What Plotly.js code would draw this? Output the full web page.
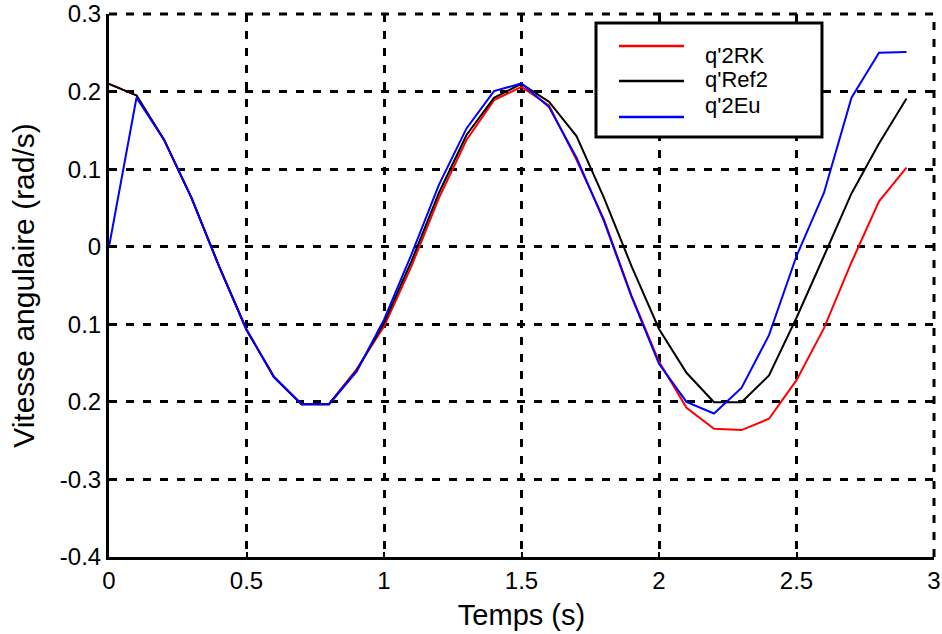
<!DOCTYPE html>
<html>
<head>
<meta charset="utf-8">
<script src="https://cdn.plot.ly/plotly-3.0.1.min.js"></script>
<style>
  html, body { margin: 0; padding: 0; background: #ffffff; }
  #chart { width: 942px; height: 634px; }
</style>
</head>
<body>
<div id="chart"></div>
<script>
// Time samples (s)
const temps = [0.0, 0.1, 0.2, 0.3, 0.4, 0.5, 0.6, 0.7, 0.8, 0.9,
               1.0, 1.1, 1.2, 1.3, 1.4, 1.5, 1.6, 1.7, 1.8, 1.9,
               2.0, 2.1, 2.2, 2.3, 2.4, 2.5, 2.6, 2.7, 2.8, 2.9];

// q'2RK (red)
const q2RK = [0.210, 0.195, 0.138, 0.063, -0.025, -0.107, -0.168, -0.203, -0.203, -0.158,
              -0.103, -0.025, 0.063, 0.1375, 0.189, 0.206, 0.182, 0.112, 0.035, -0.063,
              -0.148, -0.2076, -0.2347, -0.2364, -0.2218, -0.172, -0.105, -0.020, 0.0585, 0.102];

// q'Ref2 (black)
const qRef2 = [0.210, 0.195, 0.138, 0.063, -0.025, -0.107, -0.168, -0.203, -0.203, -0.160,
               -0.098, -0.0185, 0.0696, 0.144, 0.192, 0.210, 0.187, 0.1426, 0.063, -0.025,
               -0.106, -0.1625, -0.2005, -0.2005, -0.166, -0.0916, -0.012, 0.0687, 0.133, 0.191];

// q'2Eu (blue)
const q2Eu = [0.000, 0.192, 0.138, 0.063, -0.025, -0.107, -0.168, -0.203, -0.203, -0.161,
              -0.094, -0.010, 0.080, 0.1525, 0.2006, 0.2105, 0.180, 0.1147, 0.033, -0.0645,
              -0.151, -0.200, -0.215, -0.182, -0.114, -0.012, 0.0696, 0.192, 0.250, 0.251];

// Legend labels
const seriesNames = ["q'2RK", "q'Ref2", "q'2Eu"];
const seriesColors = ["#ff0000", "#000000", "#0000ff"];

// Tick labels
const xTickVals = [0, 0.5, 1, 1.5, 2, 2.5, 3];
const xTickText = ["0", "0.5", "1", "1.5", "2", "2.5", "3"];
const yTickVals = [0.3, 0.2, 0.1, 0, -0.1, -0.2, -0.3, -0.4];
const yTickText = ["0.3", "0.2", "0.1", "0", "0.1", "0.2", "-0.3", "-0.4"];

const seriesData = [q2RK, qRef2, q2Eu];
const traces = seriesData.map((ys, i) => ({
  x: temps,
  y: ys,
  type: 'scatter',
  mode: 'lines',
  name: seriesNames[i],
  line: { color: seriesColors[i], width: 2 },
  showlegend: false,
  hoverinfo: 'x+y'
}));

const font = "'Liberation Sans', Arial, sans-serif";
const gridDash = '8px,9px';
const gridW = 3;

// Dashed grid lines along the top and right edges of the plot area
const shapes = [
  { type: 'line', xref: 'paper', yref: 'paper', x0: 0, x1: 1, y0: 1, y1: 1,
    line: { color: '#000000', width: gridW, dash: gridDash }, layer: 'below' },
  { type: 'line', xref: 'paper', yref: 'paper', x0: 1, x1: 1, y0: 0, y1: 1,
    line: { color: '#000000', width: gridW, dash: gridDash }, layer: 'below' }
];

// Manual legend box (paper coordinates)
const legX0 = 0.5903, legX1 = 0.8642, legY0 = 0.7735, legY1 = 0.9834;
const lineX0 = 0.6182, lineX1 = 0.6970;
const lineYs = [0.9411, 0.8766, 0.8103];
const textYs = [0.9227, 0.8785, 0.8306];
const textX = 0.7200;

shapes.push({
  type: 'rect', xref: 'paper', yref: 'paper',
  x0: legX0, x1: legX1, y0: legY0, y1: legY1,
  fillcolor: '#ffffff', line: { color: '#000000', width: 3 }, layer: 'above'
});
const annotations = [];
seriesNames.forEach((nm, i) => {
  shapes.push({
    type: 'line', xref: 'paper', yref: 'paper',
    x0: lineX0, x1: lineX1, y0: lineYs[i], y1: lineYs[i],
    line: { color: seriesColors[i], width: 2.5 }, layer: 'above'
  });
  annotations.push({
    xref: 'paper', yref: 'paper', x: textX, y: textYs[i],
    xanchor: 'left', yanchor: 'middle', showarrow: false,
    text: nm, font: { family: font, size: 22, color: '#000000' }
  });
});

const layout = {
  width: 942,
  height: 634,
  margin: { l: 109, r: 8, t: 14, b: 77 },
  paper_bgcolor: '#ffffff',
  plot_bgcolor: '#ffffff',
  showlegend: false,
  xaxis: {
    range: [0, 3],
    tickmode: 'array',
    tickvals: xTickVals,
    ticktext: xTickText,
    showline: true, linecolor: '#000000', linewidth: 3,
    ticks: 'inside', ticklen: 5, tickwidth: 2, tickcolor: '#000000',
    showgrid: true, gridcolor: '#000000', gridwidth: gridW, griddash: gridDash,
    zeroline: false,
    tickfont: { family: font, size: 24, color: '#000000' },
    title: { text: 'Temps (s)', font: { family: font, size: 29, color: '#000000' }, standoff: 12 }
  },
  yaxis: {
    range: [-0.4, 0.3],
    tickmode: 'array',
    tickvals: yTickVals,
    ticktext: yTickText,
    showline: true, linecolor: '#000000', linewidth: 3,
    ticks: 'inside', ticklen: 5, tickwidth: 2, tickcolor: '#000000',
    showgrid: true, gridcolor: '#000000', gridwidth: gridW, griddash: gridDash,
    zeroline: false,
    tickfont: { family: font, size: 24, color: '#000000' },
    title: { text: 'Vitesse angulaire (rad/s)', font: { family: font, size: 30, color: '#000000' }, standoff: 17 }
  },
  shapes: shapes,
  annotations: annotations
};

Plotly.newPlot('chart', traces, layout, { displayModeBar: false, staticPlot: true });
</script>
</body>
</html>
